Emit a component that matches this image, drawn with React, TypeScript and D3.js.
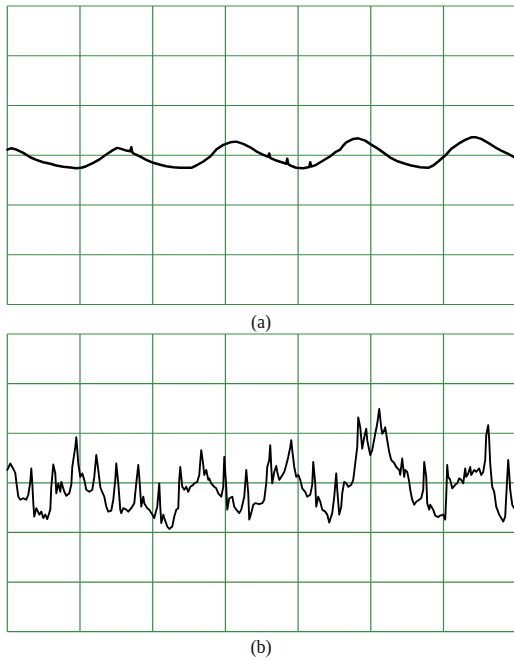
import * as React from "react";
import * as d3 from "d3";

// trace (a): sample position along the sweep (0..509) and amplitude (50 per division)
const timeA = [0, 4, 9, 16, 23, 29, 36, 43, 49, 56, 63, 69, 74, 79, 86, 93, 99, 106, 110, 114, 119, 123, 124, 125, 126, 133, 139, 146, 153, 159, 166, 173, 184, 189, 196, 203, 209, 216, 223, 229, 236, 243, 249, 256, 261, 262, 263, 269, 276, 279, 280, 281, 283, 289, 296, 302, 303, 304, 309, 316, 323, 329, 333, 336, 339, 346, 351, 358, 364, 371, 378, 384, 391, 398, 404, 413, 421, 426, 431, 438, 444, 451, 458, 464, 469, 474, 481, 488, 494, 501, 507];
const ampA = [5.7, 7, 5.7, 2.4, -2, -4.6, -7, -8.6, -10.3, -11.6, -12.3, -13, -12.6, -11, -7.6, -3.6, 0.7, 5.4, 7.4, 6.4, 4.7, 4, 8, 3, 2, -1.3, -4.6, -7.6, -9.6, -11, -12, -12.6, -12.6, -10.3, -6.3, -1.3, 5.7, 10.4, 13, 13.7, 11.4, 8, 4, 0.4, -1.5, 1.8, -2.6, -5.3, -7.6, -8.6, -3.6, -8.8, -10.3, -12.6, -13, -11.8, -7, -11.4, -9.6, -5.3, -1, 3.7, 5.7, 9.7, 13, 16.4, 17, 14.7, 10.7, 6.4, 1.4, -3, -6.3, -8.6, -10.3, -12, -12.6, -10.3, -6.3, -0.3, 6.4, 11.4, 15.4, 18, 18, 16.4, 12.4, 8, 4.7, 1.4, -2];

// trace (b)
const timeB = [0, 3, 5, 8, 9, 11, 13, 16, 19, 21, 23, 24, 25, 26, 27, 29, 32, 34, 36, 38, 40, 43, 44, 46, 48, 49, 51, 53, 54, 57, 59, 62, 64, 65, 68, 69, 70, 71, 73, 75, 77, 79, 82, 85, 87, 89, 91, 93, 94, 97, 99, 101, 104, 106, 108, 109, 111, 113, 114, 116, 119, 121, 124, 127, 129, 131, 132, 134, 136, 137, 140, 142, 145, 147, 150, 152, 153, 154, 156, 157, 160, 162, 165, 167, 169, 171, 172, 173, 175, 177, 179, 181, 183, 186, 187, 190, 192, 193, 194, 196, 197, 199, 201, 202, 204, 207, 209, 211, 214, 216, 217, 219, 220, 222, 225, 227, 229, 232, 234, 237, 239, 241, 242, 244, 246, 248, 252, 255, 257, 259, 260, 262, 263, 264, 265, 267, 269, 270, 272, 274, 277, 279, 281, 283, 284, 285, 287, 289, 291, 293, 295, 298, 300, 303, 305, 306, 308, 309, 311, 313, 315, 318, 320, 322, 325, 327, 329, 330, 332, 334, 335, 337, 339, 341, 344, 346, 348, 350, 351, 353, 355, 357, 359, 360, 363, 365, 368, 370, 372, 374, 375, 377, 378, 380, 382, 384, 387, 389, 392, 393, 395, 397, 398, 400, 402, 403, 405, 407, 409, 412, 414, 416, 417, 419, 420, 422, 423, 426, 428, 431, 433, 436, 438, 439, 440, 441, 443, 445, 448, 450, 452, 454, 456, 458, 459, 461, 463, 464, 467, 469, 472, 474, 476, 478, 479, 481, 482, 483, 485, 487, 489, 492, 494, 496, 498, 499, 501, 502, 503, 505, 507];
const ampB = [13, 19.5, 16, 10, 1, -14, -17, -15.5, -17, -12, 1, 14.5, -0.5, -20.5, -34, -25.5, -32, -29, -35.5, -32, -36.5, -27, -4, 18.5, 9.5, -10.5, -0.5, -9, 1, -9, -13, -10.5, -2, 16, 36, 46, 33, 19.5, 6, 9.5, 3, -7, -9, -7, 6, 28, 13, -4, -7, -14, -24, -29, -28, -17, 3, 19.5, -0.5, -27, -30.5, -25.5, -27, -29, -25.5, -20.5, -0.5, 18, 6, -24, -14, -20.5, -25.5, -27, -32, -35.5, -24, -0.5, -24, -40.5, -32, -35.5, -44, -46.5, -44, -34, -27, -25.5, 3, 16, -4, -7, -4, -9, -4, -2, -0.5, 1, 8, 21, 33, 18, 8, 13, 3, 4.5, -0.5, -4, -5.5, -10.5, -14, -4, 26, -4, -27, -15.5, -14, -24, -27, -30.5, -27, -14, 13, -10.5, -37, -30.5, -22, -20.5, -21.5, -20.5, -17, -0.5, 16, 23, 38, 16, -0.5, 11, 17, 11, 3, 6, 11, 18, 26, 36, 43, 33, 16, 6, 8, 3, -5.5, -9, -14, -12, -2, 21, -0.5, -24, -14, -19, -27, -29, -32, -40, -30.5, -14, 9.5, -7, -32, -24, -10.5, 1, -0.5, -4, -2, 3, 19.5, 36, 66, 56, 34.5, 46, 54.5, 43, 28, 33, 49.5, 59.5, 74.5, 56, 49.5, 53, 56, 43, 31, 23, 20, 16, 13, 8, 24.5, 6, 13, 11, 1, -7, -17, -22, -19, -17, -15.5, -7, 21, 6, -20.5, -27, -22, -27, -33, -34.5, -33, -32, -37, -14, 18, 6, 3, -5.5, -2, -0.5, 4.5, 3, -0.5, 14.5, 6, 9.5, 16, 8, 13, 11, 14.5, 8, 11, 23, 48, 58, 43, 19.5, -4, -9, -24, -32, -35.5, -39, -34, -14, 23, 9.5, -7, -22, -25.5];

const labels = ["(a)", "(b)"];

const COLS = 7;
const ROWS = 6;
const LEFT = 7.3;
const RIGHT = 516.2;
const GRID = "#3a8a44";

interface PanelProps {
  top: number;
  bottom: number;
  time: number[];
  amp: number[];
  label: string;
  labelY: number;
  lineWidth: number;
}

function Panel({ top, bottom, time, amp, label, labelY, lineWidth }: PanelProps) {
  const gx = d3.scaleLinear().domain([0, COLS]).range([LEFT, RIGHT]);
  const gy = d3.scaleLinear().domain([0, ROWS]).range([top, bottom]);
  const x = d3.scaleLinear().domain([0, 509]).range([LEFT, RIGHT]);
  const y = d3.scaleLinear().domain([-150, 150]).range([bottom, top]);

  const pts: [number, number][] = time.map((t, i) => [t, amp[i]]);
  const line = d3.line<[number, number]>()
    .x(d => x(d[0]))
    .y(d => y(d[1]));

  return (
    <g>
      {d3.range(COLS + 1).map(i => (
        <line key={"v" + i} x1={gx(i)} x2={gx(i)} y1={top} y2={bottom}
          stroke={GRID} strokeWidth={1.2} />
      ))}
      {d3.range(ROWS + 1).map(i => (
        <line key={"h" + i} x1={LEFT} x2={RIGHT} y1={gy(i)} y2={gy(i)}
          stroke={GRID} strokeWidth={1.2} />
      ))}
      <path d={line(pts) || ""} fill="none" stroke="#000" strokeWidth={lineWidth}
        strokeLinejoin="round" strokeLinecap="round" />
      <text x={261} y={labelY} textAnchor="middle" fontFamily="'Liberation Serif', 'Times New Roman', serif"
        fontSize={18} fill="#111">{label}</text>
    </g>
  );
}

export default function App() {
  return (
    <svg width={514} height={661} style={{ position: "absolute", left: 0, top: 0, display: "block", background: "#fff" }}>
      <Panel top={6} bottom={304.5} time={timeA} amp={ampA} label={labels[0]} labelY={328} lineWidth={2.5} />
      <Panel top={334} bottom={631.7} time={timeB} amp={ampB} label={labels[1]} labelY={653} lineWidth={1.9} />
    </svg>
  );
}
